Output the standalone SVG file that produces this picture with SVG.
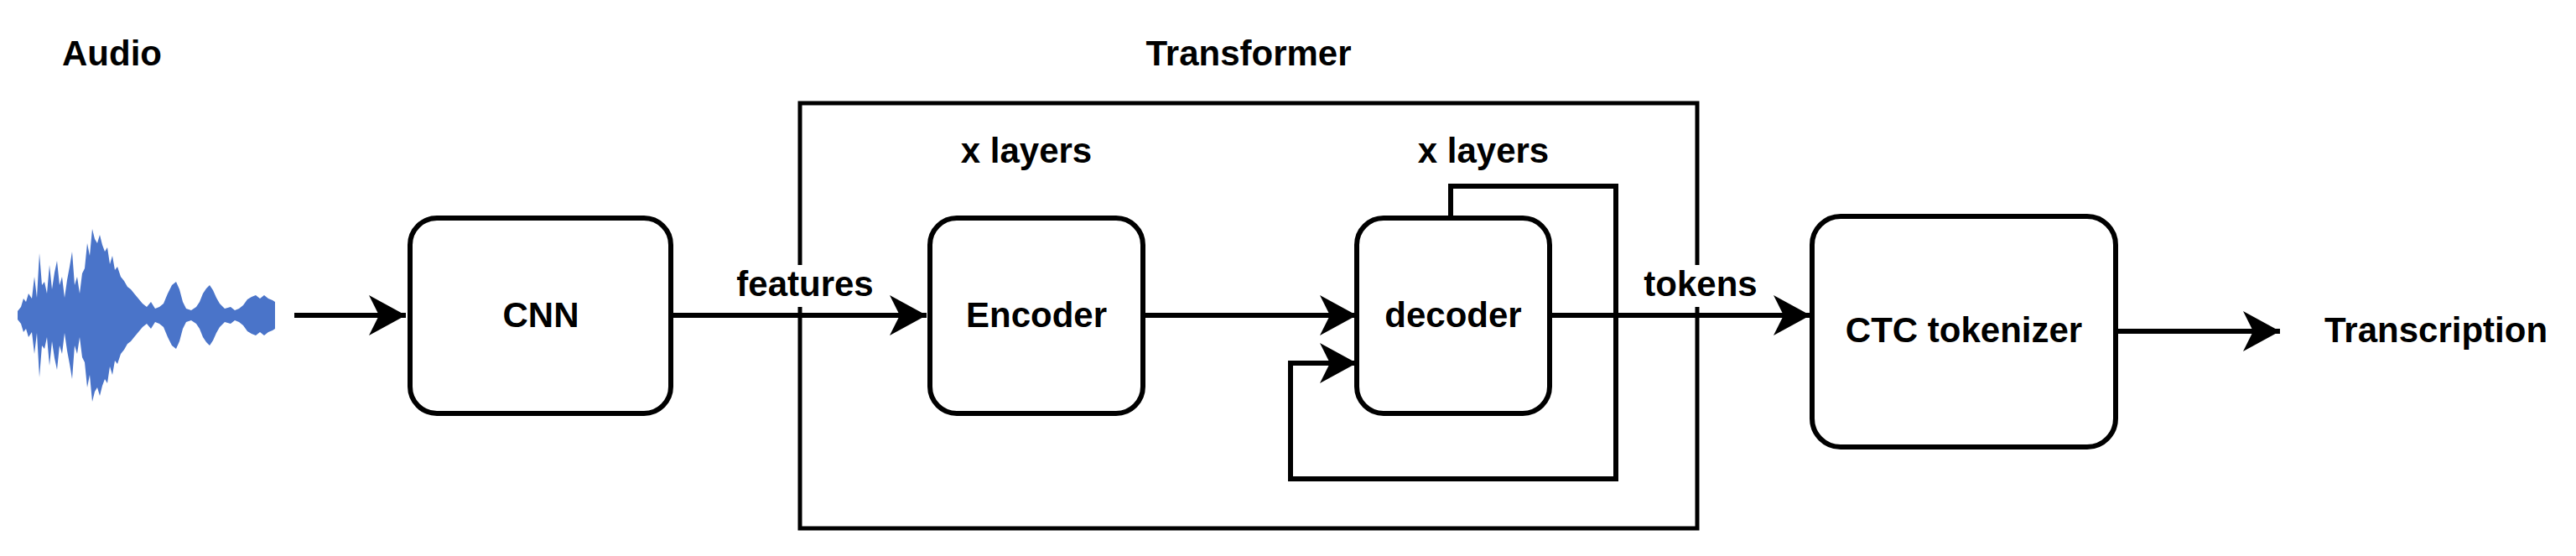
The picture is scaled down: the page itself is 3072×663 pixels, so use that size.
<svg xmlns="http://www.w3.org/2000/svg" xmlns:xlink="http://www.w3.org/1999/xlink" width="3072" height="663" viewBox="0 0 3072 663">
<style>
text{font-family:"Liberation Sans",Arial,sans-serif;font-weight:bold;font-size:42px;fill:#000}
.box{fill:#fff;stroke:#000;stroke-width:6}
.ln{fill:none;stroke:#000;stroke-width:6}
.frame{fill:none;stroke:#000;stroke-width:5}
</style>
<defs>
<marker id="ah" markerUnits="userSpaceOnUse" markerWidth="60" markerHeight="60" viewBox="-50 -30 60 60" refX="0" refY="0" orient="auto">
<path d="M0,0 L-44,-24 L-32,0 L-44,24 Z" fill="#000"/>
</marker>
<path id="wv" fill="#4a74c9" d="M21,376 L21,371 25,366 28,356 31,360 34,350 38,356 41,330 44,355 47,302 50,340 53,336 56,350 59,316 62,345 65,325 68,311 71,340 74,330 77,355 80,334 83,318 86,300 89,340 92,330 95,350 98,326 101,320 104,290 107,305 110,273 113,285 116,290 119,280 122,292 125,300 128,295 131,315 134,305 137,322 140,318 144,330 148,335 152,342 156,345 160,350 165,356 170,362 175,366 180,360 185,368 190,366 195,362 200,350 205,340 210,336 214,345 218,360 222,368 228,370 234,366 238,360 242,350 246,344 250,340 254,346 258,355 262,362 268,368 275,366 280,370 285,368 290,364 295,357 300,354 305,352 310,356 315,352 320,356 325,358 328,360 328,376 Z"/>
</defs>
<rect width="3072" height="663" fill="#fff"/>
<g id="audio">
<text x="74" y="78">Audio</text>
<use xlink:href="#wv"/>
<use xlink:href="#wv" transform="translate(0,752) scale(1,-1)"/>
</g>
<g id="transformer">
<rect class="frame" x="954" y="123" width="1070" height="507"/>
<text x="1489" y="78" text-anchor="middle">Transformer</text>
<text x="1224" y="194" text-anchor="middle">x layers</text>
<text x="1769" y="194" text-anchor="middle">x layers</text>
</g>
<g id="connectors">
<path class="ln" d="M351,376 L484,376" marker-end="url(#ah)"/>
<path class="ln" d="M800,376 L1105,376" marker-end="url(#ah)"/>
<path class="ln" d="M1363,376 L1618,376" marker-end="url(#ah)"/>
<path class="ln" d="M1730,260 L1730,222 L1927,222 L1927,571 L1539,571 L1539,433 L1618,433" marker-end="url(#ah)"/>
<path class="ln" d="M1848,376 L2159,376" marker-end="url(#ah)"/>
<path class="ln" d="M2523,395 L2719,395" marker-end="url(#ah)"/>
<rect x="875" y="316" width="170" height="50" fill="#fff"/>
<text x="960" y="353" text-anchor="middle">features</text>
<rect x="1955" y="316" width="146" height="50" fill="#fff"/>
<text x="2028" y="353" text-anchor="middle">tokens</text>
</g>
<g id="cnn"><rect class="box" x="489" y="260" width="311" height="233" rx="32"/><text x="645" y="390" text-anchor="middle">CNN</text></g>
<g id="encoder"><rect class="box" x="1109" y="260" width="254" height="233" rx="32"/><text x="1236" y="390" text-anchor="middle">Encoder</text></g>
<g id="decoder"><rect class="box" x="1618" y="260" width="230" height="233" rx="32"/><text x="1733" y="390" text-anchor="middle">decoder</text></g>
<g id="ctc"><rect class="box" x="2161" y="258" width="362" height="275" rx="34"/><text x="2342" y="408" text-anchor="middle">CTC tokenizer</text></g>
<g id="transcription"><text x="2772" y="408">Transcription</text></g>
</svg>
